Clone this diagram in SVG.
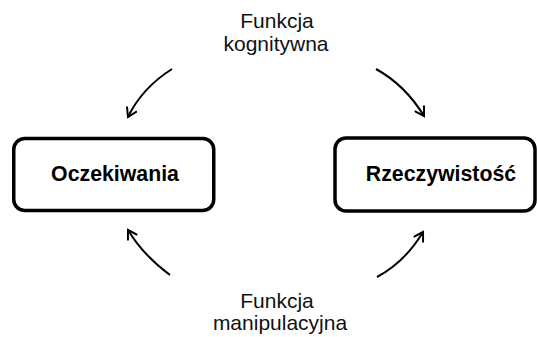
<svg xmlns="http://www.w3.org/2000/svg" width="537" height="337" viewBox="0 0 537 337">
  <style>
    .box { fill: #fff; stroke: #000; stroke-width: 3.5; }
    .title { font-family: "Liberation Sans", Arial, sans-serif; font-weight: bold; font-size: 21.3px; fill: #000; text-anchor: middle; }
    .label { font-family: "Liberation Sans", Arial, sans-serif; font-size: 21px; fill: #111; text-anchor: middle; }
    .arc { fill: none; stroke: #000; stroke-width: 2; marker-end: url(#head); }
  </style>
  <defs>
    <marker id="head" viewBox="0 0 12 12" refX="10" refY="6" markerWidth="12" markerHeight="12" markerUnits="userSpaceOnUse" orient="auto">
      <path d="M1,0.5 L10,6 L1,11.5" fill="none" stroke="#000" stroke-width="2" stroke-linejoin="miter"/>
    </marker>
  </defs>
  <rect width="537" height="337" fill="#fff"/>

  <g id="oczekiwania">
    <rect class="box" x="13.75" y="138.5" width="200" height="72" rx="11"/>
    <text class="title" x="115" y="181">Oczekiwania</text>
  </g>

  <g id="rzeczywistosc">
    <rect class="box" x="335" y="138" width="200" height="73" rx="11"/>
    <text class="title" x="441" y="181">Rzeczywistość</text>
  </g>

  <g id="funkcja-kognitywna">
    <text class="label" x="277" y="28">Funkcja</text>
    <text class="label" x="276" y="51">kognitywna</text>
  </g>

  <g id="funkcja-manipulacyjna">
    <text class="label" x="277" y="308">Funkcja</text>
    <text class="label" x="280" y="330">manipulacyjna</text>
  </g>

  <g id="connectors">
    <path class="arc" d="M172,69 Q142,88 128,117"/>
    <path class="arc" d="M376,69 Q405,85 424,116"/>
    <path class="arc" d="M170,275 Q143,255 128,230"/>
    <path class="arc" d="M377,277 Q405,262 423,232"/>
  </g>
</svg>
